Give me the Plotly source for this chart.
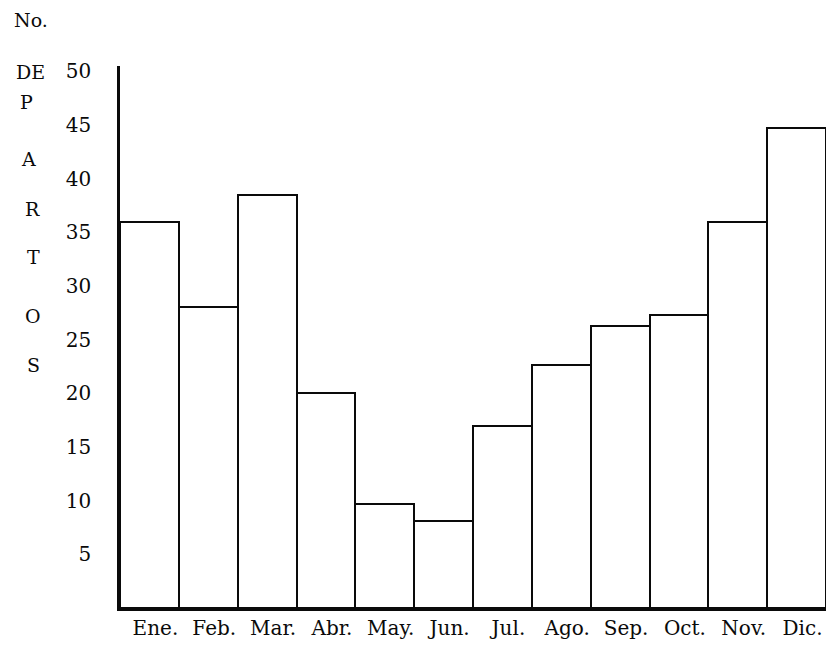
import plotly.graph_objects as go

months = ["Ene.", "Feb.", "Mar.", "Abr.", "May.", "Jun.", "Jul.", "Ago.", "Sep.", "Oct.", "Nov.", "Dic."]
partos = [36, 28, 38.5, 20, 9.7, 8.1, 17, 22.6, 26.3, 27.3, 36, 44.7]
y_ticks = [5, 10, 15, 20, 25, 30, 35, 40, 45, 50]
title_top = ["No.", "DE"]
title_letters = ["P", "A", "R", "T", "O", "S"]

W, H = 831, 645
ML, MR, MT, MB = 120, 5, 66, 33
PW, PH = W - ML - MR, H - MT - MB

def px(xp, yp):
    return (xp - ML) / PW, (H - MB - yp) / PH

FONT = "DejaVu Serif"
INK = "#0a0a0a"

fig = go.Figure(go.Bar(
    x=months, y=partos,
    marker=dict(color="white", line=dict(color=INK, width=2)),
    width=1.0,
))

annots = []
pos_top = [(31, 20), (30, 72)]
for t, (xp, yp) in zip(title_top, pos_top):
    ax, ay = px(xp, yp)
    annots.append(dict(text=t, x=ax, y=ay, xref="paper", yref="paper", showarrow=False,
                       font=dict(family=FONT, size=19, color=INK), xanchor="center", yanchor="middle"))
pos_letters = [(26, 102), (28, 160), (32, 210), (33, 258), (33, 318), (33, 367)]
for t, (xp, yp) in zip(title_letters, pos_letters):
    ax, ay = px(xp, yp)
    annots.append(dict(text=t, x=ax, y=ay, xref="paper", yref="paper", showarrow=False,
                       font=dict(family=FONT, size=19, color=INK), xanchor="center", yanchor="middle"))

fig.update_layout(
    width=W, height=H,
    margin=dict(l=ML, r=MR, t=MT, b=MB),
    paper_bgcolor="white", plot_bgcolor="white",
    bargap=0, showlegend=False,
    annotations=annots,
    xaxis=dict(showline=True, linecolor=INK, linewidth=2.5, showgrid=False, ticks="",
               tickfont=dict(family=FONT, size=20, color=INK), ticklabelstandoff=0,
               ticklabelshift=6, range=[-0.5, 11.5], fixedrange=True),
    yaxis=dict(showline=True, linecolor=INK, linewidth=2.5, showgrid=False, zeroline=False,
               ticks="", tickvals=y_ticks, ticktext=[str(v) for v in y_ticks],
               tickfont=dict(family=FONT, size=20, color=INK), ticklabelstandoff=22,
               range=[0, 50.5], fixedrange=True),
)

fig.write_html("out.html", config={"displayModeBar": False},
               post_script="document.body.style.margin='0';document.body.style.overflow='hidden';")
